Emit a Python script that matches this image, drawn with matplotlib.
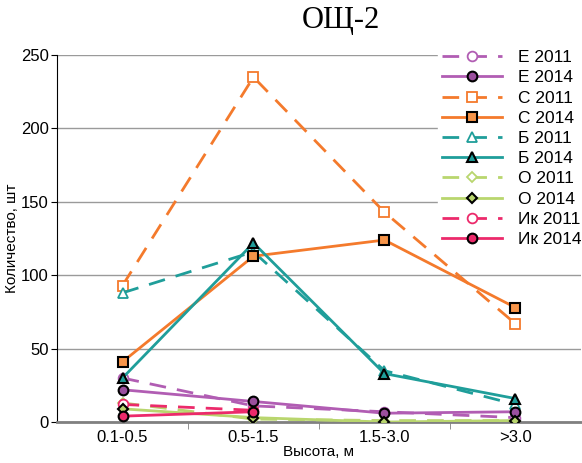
import numpy as np
import matplotlib
matplotlib.use("Agg")
import matplotlib.pyplot as plt

plt.rcParams["font.family"] = ["Liberation Sans", "DejaVu Sans"]

categories = ["0.1-0.5", "0.5-1.5", "1.5-3.0", ">3.0"]

e_2011 = [30, 11, 7, 3]
e_2014 = [22, 14, 6, 7]
c_2011 = [93, 235, 143, 67]
c_2014 = [41, 113, 124, 78]
b_2011 = [88, 116, 35, 12]
b_2014 = [30, 122, 33, 16]
o_2011 = [13, 2, 1, 1]
o_2014 = [9, 3, 0, 1]
ik_2011 = [12, 8, np.nan, np.nan]
ik_2014 = [4, 7, np.nan, np.nan]

PURPLE = "#b15db3"
PURPLE_F = "#9b4f9e"
ORANGE = "#f47a2c"
ORANGE_F = "#f7954a"
TEAL = "#1f9e9a"
GREEN = "#b9d66e"
PINK = "#ec2a6b"

series = [
    ("Е 2011", e_2011, PURPLE, "o", "--", False),
    ("Е 2014", e_2014, PURPLE, "o", "-", True),
    ("С 2011", c_2011, ORANGE, "s", "--", False),
    ("С 2014", c_2014, ORANGE, "s", "-", True),
    ("Б 2011", b_2011, TEAL, "^", "--", False),
    ("Б 2014", b_2014, TEAL, "^", "-", True),
    ("О 2011", o_2011, GREEN, "D", "--", False),
    ("О 2014", o_2014, GREEN, "D", "-", True),
    ("Ик 2011", ik_2011, PINK, "o", "--", False),
    ("Ик 2014", ik_2014, PINK, "o", "-", True),
]
fills = {PURPLE: PURPLE_F, ORANGE: ORANGE_F, TEAL: TEAL, GREEN: GREEN, PINK: PINK}

fig = plt.figure(figsize=(5.82, 4.63), dpi=100)
ax = fig.add_axes([0.098, 0.0885, 0.9, 0.7925])

x = np.arange(len(categories))
for label, vals, col, mk, ls, filled in series:
    ms = 7 if mk != "D" else 5.5
    if filled:
        ax.plot(x, vals, color=col, linestyle=ls, linewidth=2, marker=mk,
                markersize=ms, markerfacecolor=fills[col], markeredgecolor="black",
                markeredgewidth=1.5, label=label, zorder=4)
    else:
        ax.plot(x, vals, color=col, linestyle=ls, linewidth=2, dashes=(6, 4),
                marker=mk, markersize=ms, markerfacecolor="white",
                markeredgecolor=col, markeredgewidth=1.3, label=label, zorder=3)

ax.set_xlim(-0.5, 3.5)
ax.set_ylim(0, 250)
ax.set_yticks(np.arange(0, 251, 50))
ax.set_xticks(x)
ax.set_xticklabels(categories, fontsize=12)
ax.set_xticks([0.5, 1.5, 2.5], minor=True)
ax.tick_params(axis="x", which="major", length=0, pad=6)
ax.tick_params(axis="x", which="minor", length=5, color="#808080", direction="out")
ax.tick_params(axis="y", labelsize=12, length=4, direction="out", pad=2)
ax.yaxis.grid(True, color="#9a9a9a", linewidth=1)
ax.set_axisbelow(True)
for s in ["top", "right"]:
    ax.spines[s].set_visible(False)
ax.spines["left"].set_color("black")
ax.spines["bottom"].set_color("#808080")
ax.spines["bottom"].set_linewidth(2)

ax.set_xlabel("Высота, м", fontsize=11, labelpad=0)
ax.set_ylabel("Количество, шт", fontsize=11, labelpad=1)

fig.text(0.585, 0.955, "ОЩ-2", fontsize=22, family=["Liberation Serif", "DejaVu Serif"],
         ha="center", va="center")

ax.legend(loc="upper right", bbox_to_anchor=(1.02, 0.918),
          bbox_transform=fig.transFigure, frameon=True, fancybox=False,
          edgecolor="white", framealpha=1, fontsize=12.5, handlelength=3.5,
          labelspacing=0.29, borderpad=0.2, handletextpad=0.9)

fig.savefig("out.png", dpi=100)
